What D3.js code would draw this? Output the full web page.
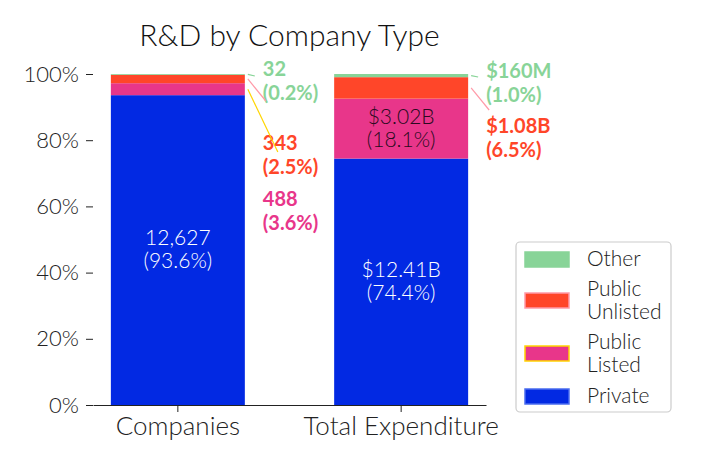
<!DOCTYPE html>
<html><head><meta charset="utf-8">
<script src="https://cdn.jsdelivr.net/npm/d3@7"></script>
<style>
body{margin:0;background:#fff;}
text{font-family:"Lato Light",Lato,"Open Sans",sans-serif;font-weight:300;}
text.bold{font-family:Lato,"Open Sans",sans-serif;font-weight:700;}
</style></head>
<body><svg id="c" width="704" height="469"></svg>
<script>
const categories = ["Companies", "Total Expenditure"];
const seriesNames = ["Private", "Public Listed", "Public Unlisted", "Other"];
const companies = [12627, 488, 343, 32];
const expenditure = [12.41, 3.02, 1.08, 0.16]; // $B
const companyLabels = ["12,627", "488", "343", "32"];
const expenditureLabels = ["$12.41B", "$3.02B", "$1.08B", "$160M"];
const yTicks = [0, 0.2, 0.4, 0.6, 0.8, 1.0];
const colors = ["#0229E3", "#E8368A", "#FF4629", "#88D498"];
const edges = ["#4a6cf0", "#FFD500", "#FF9AA8", "#88D498"];
const legendLabels = [["Other"], ["Public", "Unlisted"], ["Public", "Listed"], ["Private"]];

const svg = d3.select("#c");
const x = d3.scaleBand().domain(categories).range([93, 486]).paddingInner(0.4).paddingOuter(0.08);
const y = d3.scaleLinear().domain([0, 1]).range([405, 74]);

const raw = [companies, expenditure];
const labels = [companyLabels, expenditureLabels];
const data = raw.map((vals, i) => {
  const tot = d3.sum(vals);
  let acc = 0;
  return vals.map((v, j) => {
    const p = v / tot; const y0 = acc; acc += p;
    return {cat: categories[i], s: j, p, y0, y1: acc, label: labels[i][j]};
  });
});

// bars
data.forEach(arr => {
  svg.selectAll(null).data(arr).enter().append("rect")
    .attr("x", d => x(d.cat)).attr("width", x.bandwidth())
    .attr("y", d => y(d.y1)).attr("height", d => y(d.y0) - y(d.y1))
    .attr("fill", d => colors[d.s]);
});

// title
svg.append("text").attr("x", (93 + 486) / 2).attr("y", 46).attr("text-anchor", "middle")
  .attr("font-size", 30).attr("fill", "#111").text("R&D by Company Type");

// y axis
const ya = svg.append("g").attr("transform", "translate(93,0)")
  .call(d3.axisLeft(y).tickValues(yTicks).tickFormat(d3.format(".0%")).tickSize(7).tickPadding(7));
ya.select(".domain").remove();
ya.selectAll("text").attr("font-size", 22).attr("fill", "#222").attr("font-family", null);
ya.selectAll("line").attr("stroke", "#222");

// x axis
const xa = svg.append("g").attr("transform", "translate(0,405)")
  .call(d3.axisBottom(x).tickSize(7).tickPadding(5).tickSizeOuter(0));
xa.select(".domain").attr("stroke", "#222").attr("stroke-width", 1.2);
xa.selectAll("line").attr("stroke", "#222");
xa.selectAll("text").attr("font-size", 26).attr("fill", "#222").attr("font-family", null);

function pctStr(p) { return "(" + d3.format(".1%")(p) + ")"; }

// inside labels
const inside = [data[0][0], data[1][0], data[1][1]];
inside.forEach(d => {
  const cx = x(d.cat) + x.bandwidth() / 2;
  const cy = (y(d.y0) + y(d.y1)) / 2;
  const col = d.s === 0 ? "#fff" : "#2a0a20";
  const t = svg.append("text").attr("x", cx).attr("text-anchor", "middle")
    .attr("font-size", 21).attr("fill", col);
  t.append("tspan").attr("x", cx).attr("y", cy - 5).text(d.label);
  t.append("tspan").attr("x", cx).attr("y", cy + 18).text(pctStr(d.p));
});

// outside labels
const outside = [
  {d: data[0][3], ty: 76, ly: 76},
  {d: data[0][2], ty: 150, ly: 101},
  {d: data[0][1], ty: 206, ly: 152},
  {d: data[1][3], ty: 78, ly: 77},
  {d: data[1][2], ty: 133, ly: 110}
];
outside.forEach(o => {
  const d = o.d;
  const bx = x(d.cat) + x.bandwidth();
  const my = (y(d.y0) + y(d.y1)) / 2;
  const lx = bx + 18;
  let x2 = bx + 10;
  if (d.s === 1) x2 = bx + 33;
  else if (d.s === 2) x2 = bx + 21;
  svg.append("line").attr("x1", bx + 3).attr("y1", my).attr("x2", x2).attr("y2", o.ly)
    .attr("stroke", edges[d.s]).attr("stroke-width", 1.2);
  const t = svg.append("text").attr("class", "bold").attr("font-size", 20).attr("fill", colors[d.s]);
  t.append("tspan").attr("x", lx).attr("y", o.ty).text(d.label);
  t.append("tspan").attr("x", lx).attr("y", o.ty + 24).text(pctStr(d.p));
});

// legend
const lg = svg.append("g");
lg.append("rect").attr("x", 516).attr("y", 242).attr("width", 155).attr("height", 170).attr("rx", 4)
  .attr("fill", "#fff").attr("stroke", "#ccc").attr("stroke-width", 1.2);
const order = [3, 2, 1, 0];
const rowY = [259, 300, 353, 396];
order.forEach((s, i) => {
  lg.append("rect").attr("x", 525).attr("y", rowY[i] - 7).attr("width", 44).attr("height", 15)
    .attr("fill", colors[s]).attr("stroke", edges[s]).attr("stroke-width", 1.5);
  const lines = legendLabels[i];
  const t = lg.append("text").attr("font-size", 21).attr("fill", "#222");
  lines.forEach((l, k) => {
    t.append("tspan").attr("x", 587).attr("y", rowY[i] + 7 + (k - (lines.length - 1) / 2) * 23).text(l);
  });
});
</script></body></html>
